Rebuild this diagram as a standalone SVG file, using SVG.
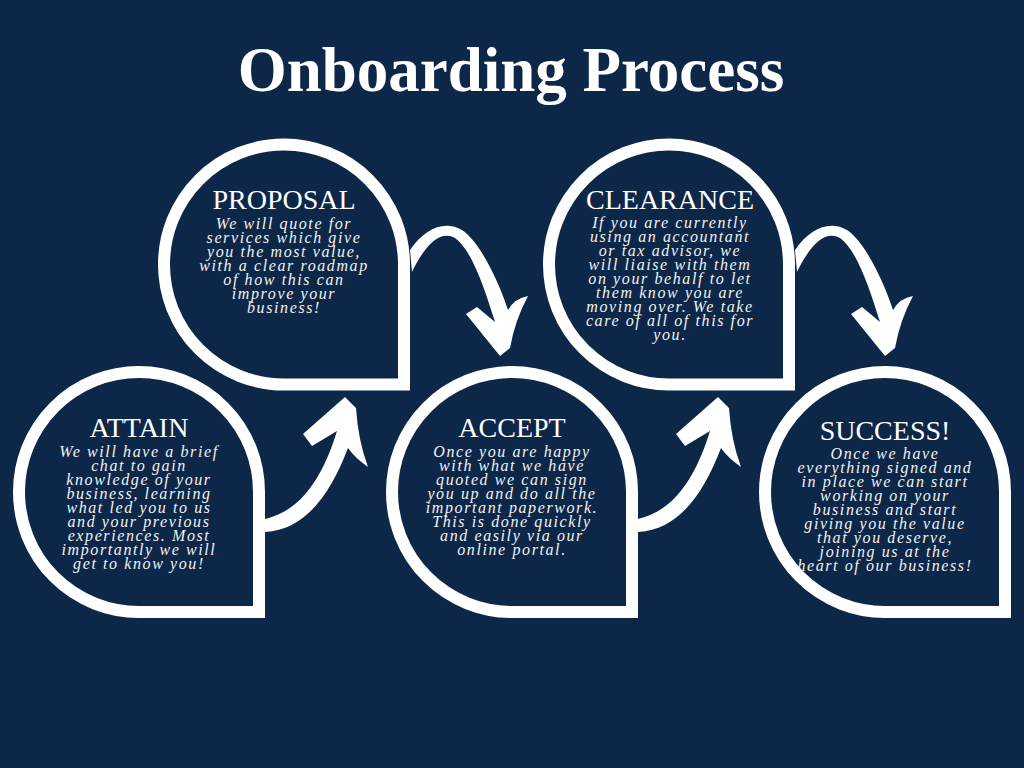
<svg xmlns="http://www.w3.org/2000/svg" xmlns:xlink="http://www.w3.org/1999/xlink" width="1024" height="768" viewBox="0 0 1024 768">
<style>
.node{fill:#0d2748;stroke:#ffffff;stroke-width:12}
.title{font-family:"Liberation Serif","Times New Roman",serif;font-weight:bold;font-size:63px;fill:#ffffff;text-anchor:middle}
.head{font-family:"Liberation Serif","Times New Roman",serif;font-size:28px;fill:#ffffff;text-anchor:middle}
.body{font-family:"Liberation Serif","Times New Roman",serif;font-style:italic;font-size:16px;letter-spacing:1.6px;fill:#f2f2f2;text-anchor:middle}
.arrow{fill:#ffffff}
</style>
<defs>
<path id="drop" d="M0 120 A120 120 0 1 1 120 0 L120 120 Z"/>
<path id="upArrow" d="M345 397 L303 434 L312 446 L337 431 C325 470 305 510 265 519 L265 532 C305 530 330 495 348 448 Q355 458 368 467 Q358 440 356 408 Z"/>
<path id="downArrow" d="M410 250 C425 228 445 220 462 230 C480 242 498 280 508 310 Q515 298 528 296 Q515 320 510 348 L500 356 L466 314 L477 307 L495 322 C485 290 472 250 455 238 C440 230 425 245 412 272 Z"/>
</defs>
<rect x="0" y="0" width="1024" height="768" fill="#0d2748"/>
<text class="title" x="511" y="91">Onboarding Process</text>

<g id="connectors">
<use xlink:href="#upArrow" class="arrow"/>
<use xlink:href="#downArrow" class="arrow"/>
<use xlink:href="#upArrow" class="arrow" transform="translate(373 0)"/>
<use xlink:href="#downArrow" class="arrow" transform="translate(385 0)"/>
</g>

<g id="node-attain">
<use xlink:href="#drop" class="node" transform="translate(139 492)"/>
<text class="head" x="139" y="437">ATTAIN</text>
<text class="body" x="139" y="457">We will have a brief</text>
<text class="body" x="139" y="471">chat to gain</text>
<text class="body" x="139" y="485">knowledge of your</text>
<text class="body" x="139" y="499">business, learning</text>
<text class="body" x="139" y="513">what led you to us</text>
<text class="body" x="139" y="527">and your previous</text>
<text class="body" x="139" y="541">experiences. Most</text>
<text class="body" x="139" y="555">importantly we will</text>
<text class="body" x="139" y="569">get to know you!</text>
</g>

<g id="node-proposal">
<use xlink:href="#drop" class="node" transform="translate(284 264.5)"/>
<text class="head" x="284" y="209">PROPOSAL</text>
<text class="body" x="284" y="229">We will quote for</text>
<text class="body" x="284" y="243">services which give</text>
<text class="body" x="284" y="257">you the most value,</text>
<text class="body" x="284" y="271">with a clear roadmap</text>
<text class="body" x="284" y="285">of how this can</text>
<text class="body" x="284" y="299">improve your</text>
<text class="body" x="284" y="313">business!</text>
</g>

<g id="node-accept">
<use xlink:href="#drop" class="node" transform="translate(512 492)"/>
<text class="head" x="512" y="437">ACCEPT</text>
<text class="body" x="512" y="457">Once you are happy</text>
<text class="body" x="512" y="471">with what we have</text>
<text class="body" x="512" y="485">quoted we can sign</text>
<text class="body" x="512" y="499">you up and do all the</text>
<text class="body" x="512" y="513">important paperwork.</text>
<text class="body" x="512" y="527">This is done quickly</text>
<text class="body" x="512" y="541">and easily via our</text>
<text class="body" x="512" y="555">online portal.</text>
</g>

<g id="node-clearance">
<use xlink:href="#drop" class="node" transform="translate(669 264.5)"/>
<text class="head" x="670" y="209">CLEARANCE</text>
<text class="body" x="670" y="228">If you are currently</text>
<text class="body" x="670" y="242">using an accountant</text>
<text class="body" x="670" y="256">or tax advisor, we</text>
<text class="body" x="670" y="270">will liaise with them</text>
<text class="body" x="670" y="284">on your behalf to let</text>
<text class="body" x="670" y="298">them know you are</text>
<text class="body" x="670" y="312">moving over. We take</text>
<text class="body" x="670" y="326">care of all of this for</text>
<text class="body" x="670" y="340">you.</text>
</g>

<g id="node-success">
<use xlink:href="#drop" class="node" transform="translate(885 492)"/>
<text class="head" x="885" y="440">SUCCESS!</text>
<text class="body" x="885" y="459">Once we have</text>
<text class="body" x="885" y="473">everything signed and</text>
<text class="body" x="885" y="487">in place we can start</text>
<text class="body" x="885" y="501">working on your</text>
<text class="body" x="885" y="515">business and start</text>
<text class="body" x="885" y="529">giving you the value</text>
<text class="body" x="885" y="543">that you deserve,</text>
<text class="body" x="885" y="557">joining us at the</text>
<text class="body" x="885" y="571">heart of our business!</text>
</g>
</svg>
